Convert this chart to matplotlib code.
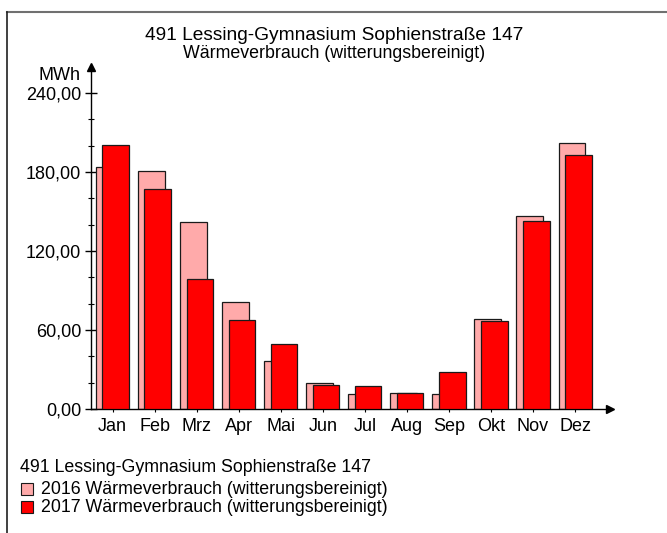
import matplotlib
matplotlib.use("Agg")
import matplotlib.pyplot as plt
from matplotlib.patches import Rectangle
from matplotlib.lines import Line2D
import numpy as np

plt.rcParams['font.family'] = ['Liberation Sans', 'DejaVu Sans']

title_lines = ["491 Lessing-Gymnasium Sophienstraße 147", "Wärmeverbrauch (witterungsbereinigt)"]
months = ["Jan", "Feb", "Mrz", "Apr", "Mai", "Jun", "Jul", "Aug", "Sep", "Okt", "Nov", "Dez"]
values_2016 = [184.0, 181.0, 141.8, 80.9, 36.4, 19.5, 11.6, 12.1, 11.2, 68.6, 146.5, 202.2]
values_2017 = [200.5, 167.0, 99.0, 67.3, 49.6, 18.0, 17.7, 11.9, 27.9, 66.8, 142.7, 192.6]
series_labels = ["2016 Wärmeverbrauch (witterungsbereinigt)", "2017 Wärmeverbrauch (witterungsbereinigt)"]
legend_title = "491 Lessing-Gymnasium Sophienstraße 147"
y_unit = "MWh"
y_major = [0, 60, 120, 180, 240]
y_minor = list(range(0, 260, 20))
colors = ["#FFAAAA", "#FF0000"]

W, H = 667, 533
fig = plt.figure(figsize=(W / 100, H / 100), dpi=100)

def fx(px):
    return px / W

def fy(py):
    return 1 - py / H

# axes geometry in pixels
ax_l, ax_r, ax_b, ax_t = 91, 610, 409, 67
ax = fig.add_axes([fx(ax_l), fy(ax_b), fx(ax_r) - fx(ax_l), fy(ax_t) - fy(ax_b)])
ax.set_xlim(-0.512, 11.83)
ax.set_ylim(0, 259.7)

x = np.arange(len(months))
bw = 0.635
off = 0.077
ax.bar(x - off, values_2016, width=bw, color=colors[0], edgecolor="#1a1a1a", linewidth=0.9, zorder=2)
ax.bar(x + off, values_2017, width=bw, color=colors[1], edgecolor="#1a1a1a", linewidth=0.9, zorder=3)

for s in ["top", "right"]:
    ax.spines[s].set_visible(False)
ax.spines["left"].set_linewidth(1.0)
ax.spines["bottom"].set_linewidth(1.0)

ax.set_xticks(x)
ax.set_xticklabels(months, fontsize=13)
ax.set_yticks(y_major)
ax.set_yticklabels([f"{v:.2f}".replace(".", ",") for v in y_major], fontsize=13)
ax.set_yticks(y_minor, minor=True)
ax.tick_params(axis="y", which="major", direction="inout", length=8, width=1, pad=3)
ax.tick_params(axis="y", which="minor", direction="inout", length=4, width=0.8)
ax.tick_params(axis="x", which="major", direction="inout", length=5, width=0.8, pad=4)

# axis arrows
ax.plot(1, 0, marker=">", color="black", markersize=6, transform=ax.transAxes, clip_on=False, zorder=5)
ax.plot(0, 1, marker="^", color="black", markersize=6, transform=ax.transAxes, clip_on=False, zorder=5)

# unit label
fig.text(fx(80), fy(75), y_unit, fontsize=13, ha="right", va="center")

# titles
fig.text(fx(334), fy(36), title_lines[0], fontsize=13.8, ha="center", va="center")
fig.text(fx(334), fy(54), title_lines[1], fontsize=12.8, ha="center", va="center")

# frame border (top and left)
fig.add_artist(Line2D([fx(7), 1], [fy(12), fy(12)], color="#707070", linewidth=1.5, transform=fig.transFigure))
fig.add_artist(Line2D([fx(7), fx(7)], [fy(12), 0], color="#202020", linewidth=1.2, transform=fig.transFigure))

# legend
fig.text(fx(20), fy(467), legend_title, fontsize=12.8, ha="left", va="center")
for i, (lab, c) in enumerate(zip(series_labels, colors)):
    yc = 489 + i * 18
    fig.add_artist(Rectangle((fx(21), fy(yc + 6)), fx(12), fy(yc - 6) - fy(yc + 6),
                             facecolor=c, edgecolor="#1a1a1a", linewidth=0.8, transform=fig.transFigure))
    fig.text(fx(41), fy(yc), lab, fontsize=12.8, ha="left", va="center")

fig.savefig("out.png", dpi=100)
